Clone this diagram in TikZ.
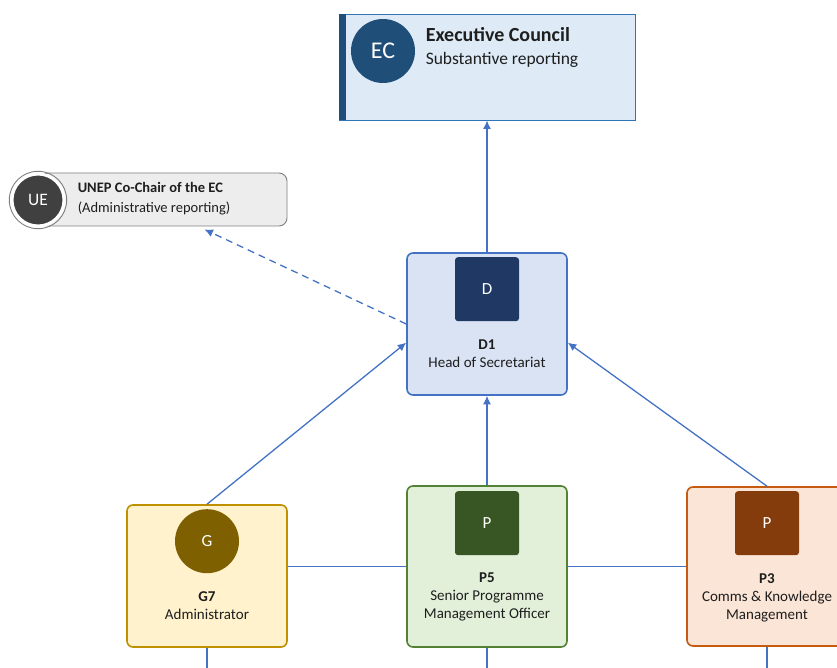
\documentclass[tikz,border=0pt]{standalone}
\usepackage{fontspec}
\setmainfont{Carlito}
\usetikzlibrary{arrows.meta, calc, positioning}
\definecolor{linkblue}{RGB}{68,114,196}
\definecolor{ecfill}{RGB}{222,235,247}
\definecolor{ecline}{RGB}{46,117,182}
\definecolor{ecdark}{RGB}{31,78,121}
\definecolor{uefill}{RGB}{237,237,237}
\definecolor{ueline}{RGB}{127,127,127}
\definecolor{uedark}{RGB}{64,64,64}
\definecolor{dfill}{RGB}{218,227,243}
\definecolor{dline}{RGB}{68,114,196}
\definecolor{ddark}{RGB}{31,56,100}
\definecolor{gfill}{RGB}{255,242,204}
\definecolor{gline}{RGB}{191,144,0}
\definecolor{gdark}{RGB}{127,96,0}
\definecolor{pfivefill}{RGB}{226,240,217}
\definecolor{pfiveline}{RGB}{84,130,53}
\definecolor{pfivedark}{RGB}{55,86,35}
\definecolor{pthreefill}{RGB}{251,229,214}
\definecolor{pthreeline}{RGB}{197,90,17}
\definecolor{pthreedark}{RGB}{132,60,12}
\definecolor{txt}{RGB}{30,30,30}

\begin{document}
\begin{tikzpicture}[x=1pt, y=-1pt,
  post/.style 2 args={fill=#1, draw=#2, line width=1.6pt, rounded corners=6pt, minimum width=160pt, minimum height=142pt, inner sep=0pt},
  badge/.style={fill=#1, rounded corners=3pt, minimum size=64pt, inner sep=0pt, text=white, font=\fontsize{17}{18}\selectfont},
  roundbadge/.style={circle, fill=#1, minimum size=64pt, inner sep=0pt, text=white, font=\fontsize{17}{18}\selectfont},
  title/.style={align=center, anchor=north, inner sep=0pt, text=txt, font=\fontsize{15}{18}\selectfont},
  link/.style={-{Latex[length=8.5pt,width=8pt]}, draw=linkblue, line width=1.3pt},
  wire/.style={draw=linkblue, line width=1.3pt}
]
\useasboundingbox (0,0) rectangle (837,668);
\coordinate (bottom) at (0,668);

% executive council
\node[post={ecfill}{ecline}, rounded corners=0pt, line width=0.9pt, minimum width=296pt, minimum height=106pt] (ec) at (487,67) {};
\fill[ecdark] (ec.north west) rectangle ($(ec.south west)+(7,0)$);
\node[roundbadge=ecdark, font=\fontsize{24}{26}\selectfont] (ecicon) at (383,51) {EC};
\node[anchor=base west, inner sep=0pt, text=txt, font=\bfseries\fontsize{20}{22}\selectfont] (ectitle) at ($(ec.north west)+(87,28)$) {Executive Council};
\node[anchor=base west, inner sep=0pt, text=txt, font=\fontsize{17.5}{20}\selectfont] (ecsub) at ($(ec.north west)+(87,51)$) {Substantive reporting};

% unep co-chair
\node[fill=uefill, draw=ueline, line width=0.9pt, rounded corners=8pt, minimum width=247pt, minimum height=53pt, inner sep=0pt] (ue) at (163.5,199.5) {};
\node[circle, fill=uedark, draw=white, line width=3pt, minimum size=52pt, inner sep=0pt, text=white, font=\fontsize{17.5}{19}\selectfont] (ueicon) at (38,200) {UE};
\draw[ueline, line width=0.9pt] (ueicon.center) circle (28.7);
\node[anchor=base west, inner sep=0pt, text=txt, font=\bfseries\fontsize{14.5}{16}\selectfont] (uetitle) at ($(ue.north west)+(38,20)$) {UNEP Co-Chair of the EC};
\node[anchor=base west, inner sep=0pt, text=txt, font=\fontsize{14.5}{16}\selectfont] (uesub) at ($(ue.north west)+(38,40)$) {(Administrative reporting)};
\coordinate (uetip) at ($(ue.south)+(41,3)$);

% head of secretariat
\node[post={dfill}{dline}] (d1) at (487,324) {};
\node[badge=ddark] (d1icon) at ($(d1.north)+(0,37)$) {D};
\node[title] (d1text) at ($(d1.north)+(0,87)$) {\textbf{D1}\\Head of Secretariat};

% staff
\node[post={gfill}{gline}] (g7) at (207,576) {};
\node[roundbadge=gdark] (g7icon) at ($(g7.north)+(0,37)$) {G};
\node[title] (g7text) at ($(g7.north)+(0,87)$) {\textbf{G7}\\Administrator};

\node[post={pfivefill}{pfiveline}, minimum height=161pt] (p5) at (487,566.5) {};
\node[badge=pfivedark] (p5icon) at ($(p5.north)+(0,38)$) {P};
\node[title] (p5text) at ($(p5.north)+(0,87)$) {\textbf{P5}\\Senior Programme\\Management Officer};

\node[post={pthreefill}{pthreeline}, minimum height=159pt] (p3) at (767,566.5) {};
\node[badge=pthreedark] (p3icon) at ($(p3.north)+(0,37)$) {P};
\node[title] (p3text) at ($(p3.north)+(0,87)$) {\textbf{P3}\\Comms \& Knowledge\\Management};

% reporting lines
\draw[link] (d1.north) -- (ec.south);
\draw[link, dashed, dash pattern=on 7pt off 5pt] (d1.west) -- (uetip);
\draw[link] (g7.north) -- (d1.193);
\draw[link] (p5.north) -- (d1.south);
\draw[link] (p3.north) -- (d1.-13);

\draw[wire] (p5.west) -- (p5.west -| g7.east);
\draw[wire] (p5.east) -- (p3.west);
\draw[wire] (g7.south) -- (g7.south |- bottom);
\draw[wire] (p5.south) -- (p5.south |- bottom);
\draw[wire] (p3.south) -- (p3.south |- bottom);
\end{tikzpicture}
\end{document}
